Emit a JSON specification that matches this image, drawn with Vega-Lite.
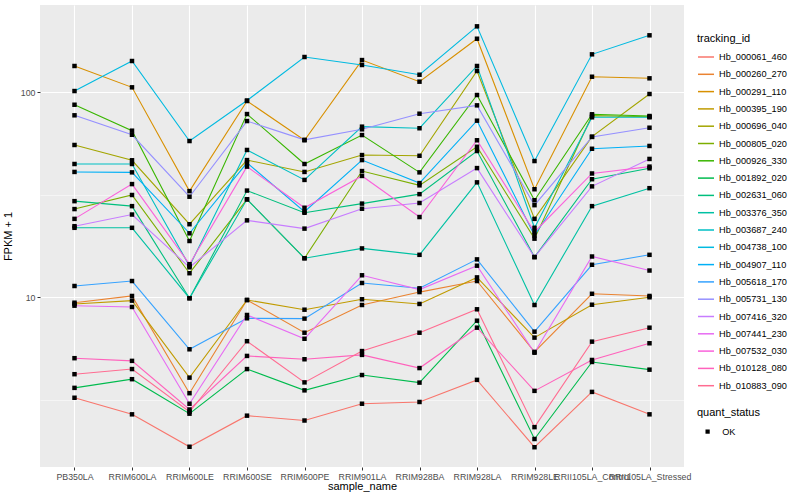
{
 "$schema": "https://vega.github.io/schema/vega-lite/v6.json",
 "width": 644,
 "height": 462,
 "autosize": {"type": "none"},
 "padding": {"left": 40, "top": 5, "right": 116, "bottom": 33},
 "background": "white",
 "config": {
  "view": {"fill": "#EBEBEB", "stroke": null},
  "font": "Liberation Sans",
  "axis": {"domain": false, "tickColor": "#333333", "tickSize": 3, "labelColor": "#4D4D4D", "labelFontSize": 8.8, "titleFontSize": 11, "titleFontWeight": "normal", "titleColor": "black", "gridColor": "white", "labelPadding": 2},
  "legend": {"titleFontSize": 11, "titleFontWeight": "normal", "titleColor": "black", "labelFontSize": 8.8, "labelColor": "black"}
 },
 "data": {"values": [
  {"tracking_id":"Hb_000061_460","sample_name":"PB350LA","fpkm_plus_1":3.24,"quant_status":"OK"},
  {"tracking_id":"Hb_000061_460","sample_name":"RRIM600LA","fpkm_plus_1":2.69,"quant_status":"OK"},
  {"tracking_id":"Hb_000061_460","sample_name":"RRIM600LE","fpkm_plus_1":1.87,"quant_status":"OK"},
  {"tracking_id":"Hb_000061_460","sample_name":"RRIM600SE","fpkm_plus_1":2.65,"quant_status":"OK"},
  {"tracking_id":"Hb_000061_460","sample_name":"RRIM600PE","fpkm_plus_1":2.51,"quant_status":"OK"},
  {"tracking_id":"Hb_000061_460","sample_name":"RRIM901LA","fpkm_plus_1":3.03,"quant_status":"OK"},
  {"tracking_id":"Hb_000061_460","sample_name":"RRIM928BA","fpkm_plus_1":3.09,"quant_status":"OK"},
  {"tracking_id":"Hb_000061_460","sample_name":"RRIM928LA","fpkm_plus_1":3.96,"quant_status":"OK"},
  {"tracking_id":"Hb_000061_460","sample_name":"RRIM928LE","fpkm_plus_1":1.86,"quant_status":"OK"},
  {"tracking_id":"Hb_000061_460","sample_name":"RRII105LA_Control","fpkm_plus_1":3.46,"quant_status":"OK"},
  {"tracking_id":"Hb_000061_460","sample_name":"RRII105LA_Stressed","fpkm_plus_1":2.69,"quant_status":"OK"},
  {"tracking_id":"Hb_000260_270","sample_name":"PB350LA","fpkm_plus_1":9.41,"quant_status":"OK"},
  {"tracking_id":"Hb_000260_270","sample_name":"RRIM600LA","fpkm_plus_1":10.15,"quant_status":"OK"},
  {"tracking_id":"Hb_000260_270","sample_name":"RRIM600LE","fpkm_plus_1":3.41,"quant_status":"OK"},
  {"tracking_id":"Hb_000260_270","sample_name":"RRIM600SE","fpkm_plus_1":9.7,"quant_status":"OK"},
  {"tracking_id":"Hb_000260_270","sample_name":"RRIM600PE","fpkm_plus_1":6.72,"quant_status":"OK"},
  {"tracking_id":"Hb_000260_270","sample_name":"RRIM901LA","fpkm_plus_1":9.17,"quant_status":"OK"},
  {"tracking_id":"Hb_000260_270","sample_name":"RRIM928BA","fpkm_plus_1":10.6,"quant_status":"OK"},
  {"tracking_id":"Hb_000260_270","sample_name":"RRIM928LA","fpkm_plus_1":12.0,"quant_status":"OK"},
  {"tracking_id":"Hb_000260_270","sample_name":"RRIM928LE","fpkm_plus_1":5.42,"quant_status":"OK"},
  {"tracking_id":"Hb_000260_270","sample_name":"RRII105LA_Control","fpkm_plus_1":10.4,"quant_status":"OK"},
  {"tracking_id":"Hb_000260_270","sample_name":"RRII105LA_Stressed","fpkm_plus_1":10.15,"quant_status":"OK"},
  {"tracking_id":"Hb_000291_110","sample_name":"PB350LA","fpkm_plus_1":133.9,"quant_status":"OK"},
  {"tracking_id":"Hb_000291_110","sample_name":"RRIM600LA","fpkm_plus_1":105.4,"quant_status":"OK"},
  {"tracking_id":"Hb_000291_110","sample_name":"RRIM600LE","fpkm_plus_1":32.9,"quant_status":"OK"},
  {"tracking_id":"Hb_000291_110","sample_name":"RRIM600SE","fpkm_plus_1":90.4,"quant_status":"OK"},
  {"tracking_id":"Hb_000291_110","sample_name":"RRIM600PE","fpkm_plus_1":58.2,"quant_status":"OK"},
  {"tracking_id":"Hb_000291_110","sample_name":"RRIM901LA","fpkm_plus_1":143.1,"quant_status":"OK"},
  {"tracking_id":"Hb_000291_110","sample_name":"RRIM928BA","fpkm_plus_1":112.3,"quant_status":"OK"},
  {"tracking_id":"Hb_000291_110","sample_name":"RRIM928LA","fpkm_plus_1":181.8,"quant_status":"OK"},
  {"tracking_id":"Hb_000291_110","sample_name":"RRIM928LE","fpkm_plus_1":33.6,"quant_status":"OK"},
  {"tracking_id":"Hb_000291_110","sample_name":"RRII105LA_Control","fpkm_plus_1":118.7,"quant_status":"OK"},
  {"tracking_id":"Hb_000291_110","sample_name":"RRII105LA_Stressed","fpkm_plus_1":116.6,"quant_status":"OK"},
  {"tracking_id":"Hb_000395_190","sample_name":"PB350LA","fpkm_plus_1":9.28,"quant_status":"OK"},
  {"tracking_id":"Hb_000395_190","sample_name":"RRIM600LA","fpkm_plus_1":9.63,"quant_status":"OK"},
  {"tracking_id":"Hb_000395_190","sample_name":"RRIM600LE","fpkm_plus_1":4.06,"quant_status":"OK"},
  {"tracking_id":"Hb_000395_190","sample_name":"RRIM600SE","fpkm_plus_1":9.7,"quant_status":"OK"},
  {"tracking_id":"Hb_000395_190","sample_name":"RRIM600PE","fpkm_plus_1":8.7,"quant_status":"OK"},
  {"tracking_id":"Hb_000395_190","sample_name":"RRIM901LA","fpkm_plus_1":9.78,"quant_status":"OK"},
  {"tracking_id":"Hb_000395_190","sample_name":"RRIM928BA","fpkm_plus_1":9.28,"quant_status":"OK"},
  {"tracking_id":"Hb_000395_190","sample_name":"RRIM928LA","fpkm_plus_1":12.5,"quant_status":"OK"},
  {"tracking_id":"Hb_000395_190","sample_name":"RRIM928LE","fpkm_plus_1":6.36,"quant_status":"OK"},
  {"tracking_id":"Hb_000395_190","sample_name":"RRII105LA_Control","fpkm_plus_1":9.2,"quant_status":"OK"},
  {"tracking_id":"Hb_000395_190","sample_name":"RRII105LA_Stressed","fpkm_plus_1":10.0,"quant_status":"OK"},
  {"tracking_id":"Hb_000696_040","sample_name":"PB350LA","fpkm_plus_1":55.2,"quant_status":"OK"},
  {"tracking_id":"Hb_000696_040","sample_name":"RRIM600LA","fpkm_plus_1":46.5,"quant_status":"OK"},
  {"tracking_id":"Hb_000696_040","sample_name":"RRIM600LE","fpkm_plus_1":22.7,"quant_status":"OK"},
  {"tracking_id":"Hb_000696_040","sample_name":"RRIM600SE","fpkm_plus_1":46.6,"quant_status":"OK"},
  {"tracking_id":"Hb_000696_040","sample_name":"RRIM600PE","fpkm_plus_1":40.8,"quant_status":"OK"},
  {"tracking_id":"Hb_000696_040","sample_name":"RRIM901LA","fpkm_plus_1":49.3,"quant_status":"OK"},
  {"tracking_id":"Hb_000696_040","sample_name":"RRIM928BA","fpkm_plus_1":48.9,"quant_status":"OK"},
  {"tracking_id":"Hb_000696_040","sample_name":"RRIM928LA","fpkm_plus_1":126.6,"quant_status":"OK"},
  {"tracking_id":"Hb_000696_040","sample_name":"RRIM928LE","fpkm_plus_1":24.1,"quant_status":"OK"},
  {"tracking_id":"Hb_000696_040","sample_name":"RRII105LA_Control","fpkm_plus_1":60.6,"quant_status":"OK"},
  {"tracking_id":"Hb_000696_040","sample_name":"RRII105LA_Stressed","fpkm_plus_1":97.8,"quant_status":"OK"},
  {"tracking_id":"Hb_000805_020","sample_name":"PB350LA","fpkm_plus_1":26.9,"quant_status":"OK"},
  {"tracking_id":"Hb_000805_020","sample_name":"RRIM600LA","fpkm_plus_1":31.5,"quant_status":"OK"},
  {"tracking_id":"Hb_000805_020","sample_name":"RRIM600LE","fpkm_plus_1":13.1,"quant_status":"OK"},
  {"tracking_id":"Hb_000805_020","sample_name":"RRIM600SE","fpkm_plus_1":30.0,"quant_status":"OK"},
  {"tracking_id":"Hb_000805_020","sample_name":"RRIM600PE","fpkm_plus_1":15.5,"quant_status":"OK"},
  {"tracking_id":"Hb_000805_020","sample_name":"RRIM901LA","fpkm_plus_1":41.2,"quant_status":"OK"},
  {"tracking_id":"Hb_000805_020","sample_name":"RRIM928BA","fpkm_plus_1":35.1,"quant_status":"OK"},
  {"tracking_id":"Hb_000805_020","sample_name":"RRIM928LA","fpkm_plus_1":54.1,"quant_status":"OK"},
  {"tracking_id":"Hb_000805_020","sample_name":"RRIM928LE","fpkm_plus_1":19.3,"quant_status":"OK"},
  {"tracking_id":"Hb_000805_020","sample_name":"RRII105LA_Control","fpkm_plus_1":76.7,"quant_status":"OK"},
  {"tracking_id":"Hb_000805_020","sample_name":"RRII105LA_Stressed","fpkm_plus_1":75.8,"quant_status":"OK"},
  {"tracking_id":"Hb_000926_330","sample_name":"PB350LA","fpkm_plus_1":86.7,"quant_status":"OK"},
  {"tracking_id":"Hb_000926_330","sample_name":"RRIM600LA","fpkm_plus_1":64.8,"quant_status":"OK"},
  {"tracking_id":"Hb_000926_330","sample_name":"RRIM600LE","fpkm_plus_1":18.8,"quant_status":"OK"},
  {"tracking_id":"Hb_000926_330","sample_name":"RRIM600SE","fpkm_plus_1":78.1,"quant_status":"OK"},
  {"tracking_id":"Hb_000926_330","sample_name":"RRIM600PE","fpkm_plus_1":44.6,"quant_status":"OK"},
  {"tracking_id":"Hb_000926_330","sample_name":"RRIM901LA","fpkm_plus_1":61.7,"quant_status":"OK"},
  {"tracking_id":"Hb_000926_330","sample_name":"RRIM928BA","fpkm_plus_1":40.6,"quant_status":"OK"},
  {"tracking_id":"Hb_000926_330","sample_name":"RRIM928LA","fpkm_plus_1":96.7,"quant_status":"OK"},
  {"tracking_id":"Hb_000926_330","sample_name":"RRIM928LE","fpkm_plus_1":29.7,"quant_status":"OK"},
  {"tracking_id":"Hb_000926_330","sample_name":"RRII105LA_Control","fpkm_plus_1":77.9,"quant_status":"OK"},
  {"tracking_id":"Hb_000926_330","sample_name":"RRII105LA_Stressed","fpkm_plus_1":76.4,"quant_status":"OK"},
  {"tracking_id":"Hb_001892_020","sample_name":"PB350LA","fpkm_plus_1":3.62,"quant_status":"OK"},
  {"tracking_id":"Hb_001892_020","sample_name":"RRIM600LA","fpkm_plus_1":3.99,"quant_status":"OK"},
  {"tracking_id":"Hb_001892_020","sample_name":"RRIM600LE","fpkm_plus_1":2.71,"quant_status":"OK"},
  {"tracking_id":"Hb_001892_020","sample_name":"RRIM600SE","fpkm_plus_1":4.47,"quant_status":"OK"},
  {"tracking_id":"Hb_001892_020","sample_name":"RRIM600PE","fpkm_plus_1":3.52,"quant_status":"OK"},
  {"tracking_id":"Hb_001892_020","sample_name":"RRIM901LA","fpkm_plus_1":4.18,"quant_status":"OK"},
  {"tracking_id":"Hb_001892_020","sample_name":"RRIM928BA","fpkm_plus_1":3.84,"quant_status":"OK"},
  {"tracking_id":"Hb_001892_020","sample_name":"RRIM928LA","fpkm_plus_1":7.69,"quant_status":"OK"},
  {"tracking_id":"Hb_001892_020","sample_name":"RRIM928LE","fpkm_plus_1":2.04,"quant_status":"OK"},
  {"tracking_id":"Hb_001892_020","sample_name":"RRII105LA_Control","fpkm_plus_1":4.84,"quant_status":"OK"},
  {"tracking_id":"Hb_001892_020","sample_name":"RRII105LA_Stressed","fpkm_plus_1":4.44,"quant_status":"OK"},
  {"tracking_id":"Hb_002631_060","sample_name":"PB350LA","fpkm_plus_1":29.4,"quant_status":"OK"},
  {"tracking_id":"Hb_002631_060","sample_name":"RRIM600LA","fpkm_plus_1":27.8,"quant_status":"OK"},
  {"tracking_id":"Hb_002631_060","sample_name":"RRIM600LE","fpkm_plus_1":9.89,"quant_status":"OK"},
  {"tracking_id":"Hb_002631_060","sample_name":"RRIM600SE","fpkm_plus_1":33.1,"quant_status":"OK"},
  {"tracking_id":"Hb_002631_060","sample_name":"RRIM600PE","fpkm_plus_1":25.8,"quant_status":"OK"},
  {"tracking_id":"Hb_002631_060","sample_name":"RRIM901LA","fpkm_plus_1":28.6,"quant_status":"OK"},
  {"tracking_id":"Hb_002631_060","sample_name":"RRIM928BA","fpkm_plus_1":31.8,"quant_status":"OK"},
  {"tracking_id":"Hb_002631_060","sample_name":"RRIM928LA","fpkm_plus_1":51.6,"quant_status":"OK"},
  {"tracking_id":"Hb_002631_060","sample_name":"RRIM928LE","fpkm_plus_1":15.7,"quant_status":"OK"},
  {"tracking_id":"Hb_002631_060","sample_name":"RRII105LA_Control","fpkm_plus_1":37.6,"quant_status":"OK"},
  {"tracking_id":"Hb_002631_060","sample_name":"RRII105LA_Stressed","fpkm_plus_1":42.5,"quant_status":"OK"},
  {"tracking_id":"Hb_003376_350","sample_name":"PB350LA","fpkm_plus_1":21.8,"quant_status":"OK"},
  {"tracking_id":"Hb_003376_350","sample_name":"RRIM600LA","fpkm_plus_1":21.8,"quant_status":"OK"},
  {"tracking_id":"Hb_003376_350","sample_name":"RRIM600LE","fpkm_plus_1":9.9,"quant_status":"OK"},
  {"tracking_id":"Hb_003376_350","sample_name":"RRIM600SE","fpkm_plus_1":30.0,"quant_status":"OK"},
  {"tracking_id":"Hb_003376_350","sample_name":"RRIM600PE","fpkm_plus_1":15.5,"quant_status":"OK"},
  {"tracking_id":"Hb_003376_350","sample_name":"RRIM901LA","fpkm_plus_1":17.3,"quant_status":"OK"},
  {"tracking_id":"Hb_003376_350","sample_name":"RRIM928BA","fpkm_plus_1":16.1,"quant_status":"OK"},
  {"tracking_id":"Hb_003376_350","sample_name":"RRIM928LA","fpkm_plus_1":36.3,"quant_status":"OK"},
  {"tracking_id":"Hb_003376_350","sample_name":"RRIM928LE","fpkm_plus_1":9.17,"quant_status":"OK"},
  {"tracking_id":"Hb_003376_350","sample_name":"RRII105LA_Control","fpkm_plus_1":27.8,"quant_status":"OK"},
  {"tracking_id":"Hb_003376_350","sample_name":"RRII105LA_Stressed","fpkm_plus_1":34.0,"quant_status":"OK"},
  {"tracking_id":"Hb_003687_240","sample_name":"PB350LA","fpkm_plus_1":44.6,"quant_status":"OK"},
  {"tracking_id":"Hb_003687_240","sample_name":"RRIM600LA","fpkm_plus_1":44.6,"quant_status":"OK"},
  {"tracking_id":"Hb_003687_240","sample_name":"RRIM600LE","fpkm_plus_1":14.2,"quant_status":"OK"},
  {"tracking_id":"Hb_003687_240","sample_name":"RRIM600SE","fpkm_plus_1":52.2,"quant_status":"OK"},
  {"tracking_id":"Hb_003687_240","sample_name":"RRIM600PE","fpkm_plus_1":37.3,"quant_status":"OK"},
  {"tracking_id":"Hb_003687_240","sample_name":"RRIM901LA","fpkm_plus_1":67.8,"quant_status":"OK"},
  {"tracking_id":"Hb_003687_240","sample_name":"RRIM928BA","fpkm_plus_1":66.6,"quant_status":"OK"},
  {"tracking_id":"Hb_003687_240","sample_name":"RRIM928LA","fpkm_plus_1":133.9,"quant_status":"OK"},
  {"tracking_id":"Hb_003687_240","sample_name":"RRIM928LE","fpkm_plus_1":21.8,"quant_status":"OK"},
  {"tracking_id":"Hb_003687_240","sample_name":"RRII105LA_Control","fpkm_plus_1":75.3,"quant_status":"OK"},
  {"tracking_id":"Hb_003687_240","sample_name":"RRII105LA_Stressed","fpkm_plus_1":75.3,"quant_status":"OK"},
  {"tracking_id":"Hb_004738_100","sample_name":"PB350LA","fpkm_plus_1":101.1,"quant_status":"OK"},
  {"tracking_id":"Hb_004738_100","sample_name":"RRIM600LA","fpkm_plus_1":141.6,"quant_status":"OK"},
  {"tracking_id":"Hb_004738_100","sample_name":"RRIM600LE","fpkm_plus_1":57.7,"quant_status":"OK"},
  {"tracking_id":"Hb_004738_100","sample_name":"RRIM600SE","fpkm_plus_1":90.9,"quant_status":"OK"},
  {"tracking_id":"Hb_004738_100","sample_name":"RRIM600PE","fpkm_plus_1":148.1,"quant_status":"OK"},
  {"tracking_id":"Hb_004738_100","sample_name":"RRIM901LA","fpkm_plus_1":135.4,"quant_status":"OK"},
  {"tracking_id":"Hb_004738_100","sample_name":"RRIM928BA","fpkm_plus_1":121.4,"quant_status":"OK"},
  {"tracking_id":"Hb_004738_100","sample_name":"RRIM928LA","fpkm_plus_1":208.9,"quant_status":"OK"},
  {"tracking_id":"Hb_004738_100","sample_name":"RRIM928LE","fpkm_plus_1":46.1,"quant_status":"OK"},
  {"tracking_id":"Hb_004738_100","sample_name":"RRII105LA_Control","fpkm_plus_1":152.6,"quant_status":"OK"},
  {"tracking_id":"Hb_004738_100","sample_name":"RRII105LA_Stressed","fpkm_plus_1":188.9,"quant_status":"OK"},
  {"tracking_id":"Hb_004907_110","sample_name":"PB350LA","fpkm_plus_1":40.8,"quant_status":"OK"},
  {"tracking_id":"Hb_004907_110","sample_name":"RRIM600LA","fpkm_plus_1":40.6,"quant_status":"OK"},
  {"tracking_id":"Hb_004907_110","sample_name":"RRIM600LE","fpkm_plus_1":20.5,"quant_status":"OK"},
  {"tracking_id":"Hb_004907_110","sample_name":"RRIM600SE","fpkm_plus_1":45.2,"quant_status":"OK"},
  {"tracking_id":"Hb_004907_110","sample_name":"RRIM600PE","fpkm_plus_1":26.1,"quant_status":"OK"},
  {"tracking_id":"Hb_004907_110","sample_name":"RRIM901LA","fpkm_plus_1":46.6,"quant_status":"OK"},
  {"tracking_id":"Hb_004907_110","sample_name":"RRIM928BA","fpkm_plus_1":36.0,"quant_status":"OK"},
  {"tracking_id":"Hb_004907_110","sample_name":"RRIM928LA","fpkm_plus_1":72.5,"quant_status":"OK"},
  {"tracking_id":"Hb_004907_110","sample_name":"RRIM928LE","fpkm_plus_1":20.0,"quant_status":"OK"},
  {"tracking_id":"Hb_004907_110","sample_name":"RRII105LA_Control","fpkm_plus_1":52.9,"quant_status":"OK"},
  {"tracking_id":"Hb_004907_110","sample_name":"RRII105LA_Stressed","fpkm_plus_1":54.6,"quant_status":"OK"},
  {"tracking_id":"Hb_005618_170","sample_name":"PB350LA","fpkm_plus_1":11.35,"quant_status":"OK"},
  {"tracking_id":"Hb_005618_170","sample_name":"RRIM600LA","fpkm_plus_1":12.0,"quant_status":"OK"},
  {"tracking_id":"Hb_005618_170","sample_name":"RRIM600LE","fpkm_plus_1":5.58,"quant_status":"OK"},
  {"tracking_id":"Hb_005618_170","sample_name":"RRIM600SE","fpkm_plus_1":7.9,"quant_status":"OK"},
  {"tracking_id":"Hb_005618_170","sample_name":"RRIM600PE","fpkm_plus_1":7.87,"quant_status":"OK"},
  {"tracking_id":"Hb_005618_170","sample_name":"RRIM901LA","fpkm_plus_1":11.74,"quant_status":"OK"},
  {"tracking_id":"Hb_005618_170","sample_name":"RRIM928BA","fpkm_plus_1":11.06,"quant_status":"OK"},
  {"tracking_id":"Hb_005618_170","sample_name":"RRIM928LA","fpkm_plus_1":15.3,"quant_status":"OK"},
  {"tracking_id":"Hb_005618_170","sample_name":"RRIM928LE","fpkm_plus_1":6.8,"quant_status":"OK"},
  {"tracking_id":"Hb_005618_170","sample_name":"RRII105LA_Control","fpkm_plus_1":14.4,"quant_status":"OK"},
  {"tracking_id":"Hb_005618_170","sample_name":"RRII105LA_Stressed","fpkm_plus_1":16.1,"quant_status":"OK"},
  {"tracking_id":"Hb_005731_130","sample_name":"PB350LA","fpkm_plus_1":77.0,"quant_status":"OK"},
  {"tracking_id":"Hb_005731_130","sample_name":"RRIM600LA","fpkm_plus_1":61.9,"quant_status":"OK"},
  {"tracking_id":"Hb_005731_130","sample_name":"RRIM600LE","fpkm_plus_1":30.9,"quant_status":"OK"},
  {"tracking_id":"Hb_005731_130","sample_name":"RRIM600SE","fpkm_plus_1":72.2,"quant_status":"OK"},
  {"tracking_id":"Hb_005731_130","sample_name":"RRIM600PE","fpkm_plus_1":58.5,"quant_status":"OK"},
  {"tracking_id":"Hb_005731_130","sample_name":"RRIM901LA","fpkm_plus_1":65.8,"quant_status":"OK"},
  {"tracking_id":"Hb_005731_130","sample_name":"RRIM928BA","fpkm_plus_1":78.4,"quant_status":"OK"},
  {"tracking_id":"Hb_005731_130","sample_name":"RRIM928LA","fpkm_plus_1":86.1,"quant_status":"OK"},
  {"tracking_id":"Hb_005731_130","sample_name":"RRIM928LE","fpkm_plus_1":28.1,"quant_status":"OK"},
  {"tracking_id":"Hb_005731_130","sample_name":"RRII105LA_Control","fpkm_plus_1":60.4,"quant_status":"OK"},
  {"tracking_id":"Hb_005731_130","sample_name":"RRII105LA_Stressed","fpkm_plus_1":67.0,"quant_status":"OK"},
  {"tracking_id":"Hb_007416_320","sample_name":"PB350LA","fpkm_plus_1":22.2,"quant_status":"OK"},
  {"tracking_id":"Hb_007416_320","sample_name":"RRIM600LA","fpkm_plus_1":25.3,"quant_status":"OK"},
  {"tracking_id":"Hb_007416_320","sample_name":"RRIM600LE","fpkm_plus_1":14.0,"quant_status":"OK"},
  {"tracking_id":"Hb_007416_320","sample_name":"RRIM600SE","fpkm_plus_1":23.7,"quant_status":"OK"},
  {"tracking_id":"Hb_007416_320","sample_name":"RRIM600PE","fpkm_plus_1":21.6,"quant_status":"OK"},
  {"tracking_id":"Hb_007416_320","sample_name":"RRIM901LA","fpkm_plus_1":27.0,"quant_status":"OK"},
  {"tracking_id":"Hb_007416_320","sample_name":"RRIM928BA","fpkm_plus_1":28.8,"quant_status":"OK"},
  {"tracking_id":"Hb_007416_320","sample_name":"RRIM928LA","fpkm_plus_1":42.6,"quant_status":"OK"},
  {"tracking_id":"Hb_007416_320","sample_name":"RRIM928LE","fpkm_plus_1":15.7,"quant_status":"OK"},
  {"tracking_id":"Hb_007416_320","sample_name":"RRII105LA_Control","fpkm_plus_1":34.7,"quant_status":"OK"},
  {"tracking_id":"Hb_007416_320","sample_name":"RRII105LA_Stressed","fpkm_plus_1":47.2,"quant_status":"OK"},
  {"tracking_id":"Hb_007441_230","sample_name":"PB350LA","fpkm_plus_1":9.1,"quant_status":"OK"},
  {"tracking_id":"Hb_007441_230","sample_name":"RRIM600LA","fpkm_plus_1":8.97,"quant_status":"OK"},
  {"tracking_id":"Hb_007441_230","sample_name":"RRIM600LE","fpkm_plus_1":3.03,"quant_status":"OK"},
  {"tracking_id":"Hb_007441_230","sample_name":"RRIM600SE","fpkm_plus_1":8.2,"quant_status":"OK"},
  {"tracking_id":"Hb_007441_230","sample_name":"RRIM600PE","fpkm_plus_1":6.28,"quant_status":"OK"},
  {"tracking_id":"Hb_007441_230","sample_name":"RRIM901LA","fpkm_plus_1":12.8,"quant_status":"OK"},
  {"tracking_id":"Hb_007441_230","sample_name":"RRIM928BA","fpkm_plus_1":10.9,"quant_status":"OK"},
  {"tracking_id":"Hb_007441_230","sample_name":"RRIM928LA","fpkm_plus_1":14.25,"quant_status":"OK"},
  {"tracking_id":"Hb_007441_230","sample_name":"RRIM928LE","fpkm_plus_1":5.37,"quant_status":"OK"},
  {"tracking_id":"Hb_007441_230","sample_name":"RRII105LA_Control","fpkm_plus_1":15.8,"quant_status":"OK"},
  {"tracking_id":"Hb_007441_230","sample_name":"RRII105LA_Stressed","fpkm_plus_1":13.5,"quant_status":"OK"},
  {"tracking_id":"Hb_007532_030","sample_name":"PB350LA","fpkm_plus_1":24.1,"quant_status":"OK"},
  {"tracking_id":"Hb_007532_030","sample_name":"RRIM600LA","fpkm_plus_1":35.6,"quant_status":"OK"},
  {"tracking_id":"Hb_007532_030","sample_name":"RRIM600LE","fpkm_plus_1":14.5,"quant_status":"OK"},
  {"tracking_id":"Hb_007532_030","sample_name":"RRIM600SE","fpkm_plus_1":43.3,"quant_status":"OK"},
  {"tracking_id":"Hb_007532_030","sample_name":"RRIM600PE","fpkm_plus_1":27.3,"quant_status":"OK"},
  {"tracking_id":"Hb_007532_030","sample_name":"RRIM901LA","fpkm_plus_1":39.0,"quant_status":"OK"},
  {"tracking_id":"Hb_007532_030","sample_name":"RRIM928BA","fpkm_plus_1":24.6,"quant_status":"OK"},
  {"tracking_id":"Hb_007532_030","sample_name":"RRIM928LA","fpkm_plus_1":58.2,"quant_status":"OK"},
  {"tracking_id":"Hb_007532_030","sample_name":"RRIM928LE","fpkm_plus_1":20.8,"quant_status":"OK"},
  {"tracking_id":"Hb_007532_030","sample_name":"RRII105LA_Control","fpkm_plus_1":40.1,"quant_status":"OK"},
  {"tracking_id":"Hb_007532_030","sample_name":"RRII105LA_Stressed","fpkm_plus_1":43.3,"quant_status":"OK"},
  {"tracking_id":"Hb_010128_080","sample_name":"PB350LA","fpkm_plus_1":5.05,"quant_status":"OK"},
  {"tracking_id":"Hb_010128_080","sample_name":"RRIM600LA","fpkm_plus_1":4.9,"quant_status":"OK"},
  {"tracking_id":"Hb_010128_080","sample_name":"RRIM600LE","fpkm_plus_1":2.84,"quant_status":"OK"},
  {"tracking_id":"Hb_010128_080","sample_name":"RRIM600SE","fpkm_plus_1":5.18,"quant_status":"OK"},
  {"tracking_id":"Hb_010128_080","sample_name":"RRIM600PE","fpkm_plus_1":4.99,"quant_status":"OK"},
  {"tracking_id":"Hb_010128_080","sample_name":"RRIM901LA","fpkm_plus_1":5.24,"quant_status":"OK"},
  {"tracking_id":"Hb_010128_080","sample_name":"RRIM928BA","fpkm_plus_1":4.52,"quant_status":"OK"},
  {"tracking_id":"Hb_010128_080","sample_name":"RRIM928LA","fpkm_plus_1":7.11,"quant_status":"OK"},
  {"tracking_id":"Hb_010128_080","sample_name":"RRIM928LE","fpkm_plus_1":3.5,"quant_status":"OK"},
  {"tracking_id":"Hb_010128_080","sample_name":"RRII105LA_Control","fpkm_plus_1":4.95,"quant_status":"OK"},
  {"tracking_id":"Hb_010128_080","sample_name":"RRII105LA_Stressed","fpkm_plus_1":5.97,"quant_status":"OK"},
  {"tracking_id":"Hb_010883_090","sample_name":"PB350LA","fpkm_plus_1":4.22,"quant_status":"OK"},
  {"tracking_id":"Hb_010883_090","sample_name":"RRIM600LA","fpkm_plus_1":4.47,"quant_status":"OK"},
  {"tracking_id":"Hb_010883_090","sample_name":"RRIM600LE","fpkm_plus_1":2.77,"quant_status":"OK"},
  {"tracking_id":"Hb_010883_090","sample_name":"RRIM600SE","fpkm_plus_1":6.11,"quant_status":"OK"},
  {"tracking_id":"Hb_010883_090","sample_name":"RRIM600PE","fpkm_plus_1":3.85,"quant_status":"OK"},
  {"tracking_id":"Hb_010883_090","sample_name":"RRIM901LA","fpkm_plus_1":5.47,"quant_status":"OK"},
  {"tracking_id":"Hb_010883_090","sample_name":"RRIM928BA","fpkm_plus_1":6.72,"quant_status":"OK"},
  {"tracking_id":"Hb_010883_090","sample_name":"RRIM928LA","fpkm_plus_1":8.74,"quant_status":"OK"},
  {"tracking_id":"Hb_010883_090","sample_name":"RRIM928LE","fpkm_plus_1":2.33,"quant_status":"OK"},
  {"tracking_id":"Hb_010883_090","sample_name":"RRII105LA_Control","fpkm_plus_1":6.08,"quant_status":"OK"},
  {"tracking_id":"Hb_010883_090","sample_name":"RRII105LA_Stressed","fpkm_plus_1":7.11,"quant_status":"OK"}
 ]},
 "encoding": {
  "x": {"field": "sample_name", "type": "nominal",
   "scale": {"type": "point", "padding": 0.6, "domain": ["PB350LA","RRIM600LA","RRIM600LE","RRIM600SE","RRIM600PE","RRIM901LA","RRIM928BA","RRIM928LA","RRIM928LE","RRII105LA_Control","RRII105LA_Stressed"]},
   "axis": {"labelAngle": 0, "labelOverlap": false, "labelBound": false, "grid": true, "gridWidth": 1.1, "title": "sample_name", "titlePadding": 0}},
  "y": {"field": "fpkm_plus_1", "type": "quantitative",
   "scale": {"type": "log", "domain": [1.49, 265.4], "nice": false},
   "axis": {"values": [3.1623, 10, 31.623, 100], "title": "FPKM + 1", "titlePadding": 7,
    "labelExpr": "datum.value == 10 ? '10' : (datum.value == 100 ? '100' : '')",
    "gridWidth": {"condition": {"test": "datum.value == 10 || datum.value == 100", "value": 1.1}, "value": 0.5},
    "tickOpacity": {"condition": {"test": "datum.value == 10 || datum.value == 100", "value": 1}, "value": 0}}}
 },
 "layer": [
  {"mark": {"type": "line", "strokeWidth": 1.1},
   "encoding": {
    "order": {"value": null},
    "color": {"field": "tracking_id", "type": "nominal", "title": "tracking_id",
     "scale": {"domain": ["Hb_000061_460","Hb_000260_270","Hb_000291_110","Hb_000395_190","Hb_000696_040","Hb_000805_020","Hb_000926_330","Hb_001892_020","Hb_002631_060","Hb_003376_350","Hb_003687_240","Hb_004738_100","Hb_004907_110","Hb_005618_170","Hb_005731_130","Hb_007416_320","Hb_007441_230","Hb_007532_030","Hb_010128_080","Hb_010883_090"],
      "range": ["#F8766D","#EA8331","#D89000","#C09B00","#A3A500","#7CAE00","#39B600","#00BB4E","#00BF7D","#00C1A3","#00BFC4","#00BAE0","#00B0F6","#35A2FF","#9590FF","#C77CFF","#E76BF3","#FA62DB","#FF62BC","#FF6C91"]},
     "legend": {"orient": "none", "legendX": 657, "legendY": 28, "symbolType": "stroke", "symbolSize": 256, "symbolStrokeWidth": 1.5, "rowPadding": 2.3, "labelOffset": 4, "titlePadding": 4, "labelFontSize": 9.2}}}},
  {"mark": {"type": "point", "filled": true, "size": 20, "opacity": 1, "color": "black"},
   "encoding": {
    "shape": {"field": "quant_status", "type": "nominal", "title": "quant_status",
     "scale": {"domain": ["OK"], "range": ["square"]},
     "legend": {"orient": "none", "legendX": 657, "legendY": 402, "symbolFillColor": "black", "symbolStrokeColor": "black", "symbolSize": 18, "symbolOffset": 6, "labelOffset": 10, "titlePadding": 9, "labelFontSize": 9.2}}}}
 ]
}
